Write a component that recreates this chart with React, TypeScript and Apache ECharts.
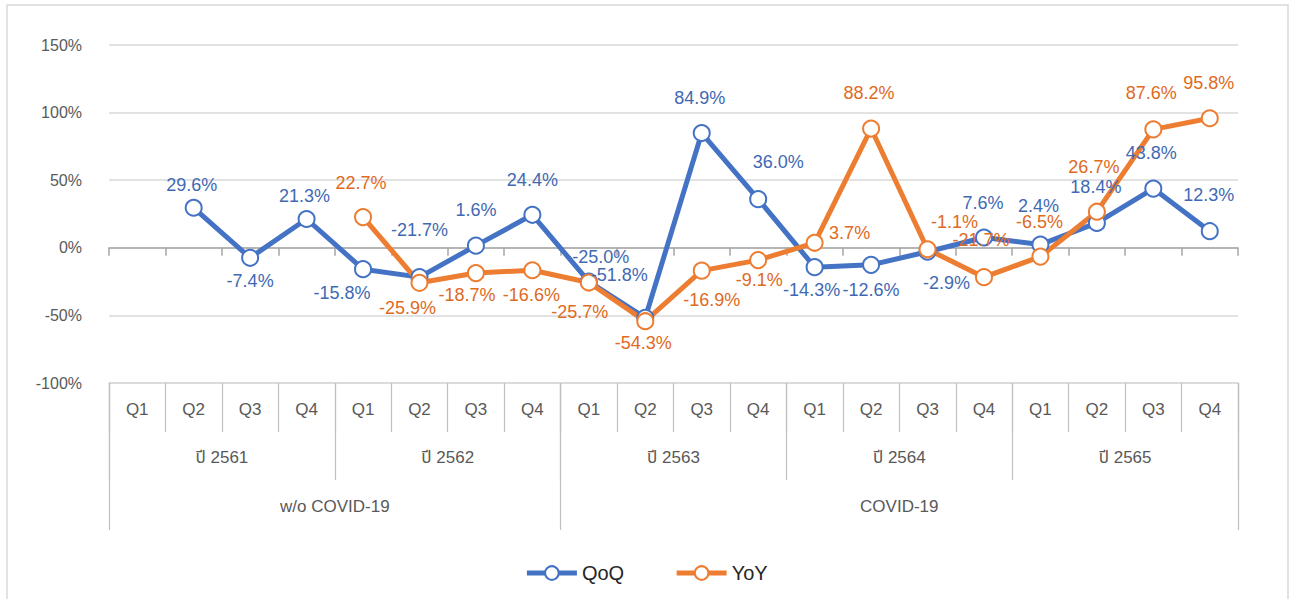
import React, { useEffect, useRef } from "react";
import * as echarts from "echarts";

const QUARTERS = ["Q1", "Q2", "Q3", "Q4", "Q1", "Q2", "Q3", "Q4", "Q1", "Q2", "Q3", "Q4", "Q1", "Q2", "Q3", "Q4", "Q1", "Q2", "Q3", "Q4"];
const YEARS = ["ปี 2561", "ปี 2562", "ปี 2563", "ปี 2564", "ปี 2565"];
const PERIODS = ["w/o COVID-19", "COVID-19"];
// period boundaries in quarter units
const PERIOD_BOUNDS = [0, 8, 20];
const PERIOD_CENTERS = [4, 14];

const QOQ: (number | null)[] = [null, 29.6, -7.4, 21.3, -15.8, -21.7, 1.6, 24.4, -25.0, -51.8, 84.9, 36.0, -14.3, -12.6, -2.9, 7.6, 2.4, 18.4, 43.8, 12.3];
const YOY: (number | null)[] = [null, null, null, null, 22.7, -25.9, -18.7, -16.6, -25.7, -54.3, -16.9, -9.1, 3.7, 88.2, -1.1, -21.7, -6.5, 26.7, 87.6, 95.8];

const Y_TICKS = { min: -100, max: 150, interval: 50 };

// label offsets (layout only) relative to each point
const QOQ_LABEL_OFFSET: number[][] = [
  [0, 0], [-2, -23], [0, 23], [-2, -23], [-21, 24], [0, -47], [0, -36], [0, -35], [12, -25], [-26, -43],
  [-2, -35], [20, -37], [-3, 23], [0, 25], [19, 31], [-1, -35], [-2, -39], [-1, -36], [-2, -36], [-1, -36],
];
const YOY_LABEL_OFFSET: number[][] = [
  [0, 0], [0, 0], [0, 0], [0, 0], [-2, -34], [-12, 25], [-9, 22], [-1, 25], [-9, 29], [-2, 22],
  [10, 29], [1, 20], [35, -10], [-2, -36], [27, -27], [-3, -37], [-1, -35], [-3, -45], [-2, -36], [-1, -35],
];

const BLUE = "#4472C4";
const ORANGE = "#ED7D31";
const BLUE_TEXT = "#4169B3";
const ORANGE_TEXT = "#E06A22";
const FONT = "'Liberation Sans', Arial, 'Noto Sans Thai', Tahoma, 'Noto Sans', sans-serif";

function buildData(vals: (number | null)[], offsets: number[][]) {
  return vals.map((v, i) =>
    v == null ? null : { value: v, label: { offset: offsets[i] } }
  );
}

export default function App() {
  const ref = useRef<HTMLDivElement>(null);
  useEffect(() => {
    if (!ref.current) return;
    const chart = echarts.init(ref.current, undefined, { renderer: "svg" });
    const makeSeries = (name: string, vals: (number | null)[], offs: number[][], color: string, textColor: string) => ({
      name,
      type: "line",
      xAxisIndex: 0,
      yAxisIndex: 0,
      data: buildData(vals, offs),
      connectNulls: false,
      symbol: "emptyCircle",
      symbolSize: 16,
      lineStyle: { color, width: 5 },
      itemStyle: { color, borderColor: color, borderWidth: 4 },
      label: {
        show: true,
        position: "inside",
        fontSize: 18,
        fontFamily: FONT,
        color: textColor,
        formatter: (p: any) => `${Number(p.value).toFixed(1)}%`,
      },
      emphasis: { disabled: true },
    });
    chart.setOption({
      animation: false,
      textStyle: { fontFamily: FONT },
      graphic: [
        {
          type: "rect",
          shape: { x: 7, y: 5, width: 1281, height: 620 },
          style: { fill: "none", stroke: "#d9d9d9", lineWidth: 1.5 },
          silent: true,
          z: -1,
        },
      ],
      grid: { left: 109, right: 54, top: 45, bottom: 216 },
      legend: {
        data: ["QoQ", "YoY"],
        left: "center",
        top: 558,
        itemWidth: 50,
        itemHeight: 17,
        itemGap: 50,
        lineStyle: { width: 5 },
        itemStyle: { borderWidth: 4 },
        textStyle: { fontSize: 20, color: "#262626", fontFamily: FONT },
      },
      yAxis: {
        type: "value",
        min: Y_TICKS.min,
        max: Y_TICKS.max,
        interval: Y_TICKS.interval,
        axisLine: { show: false },
        axisTick: { show: false },
        axisLabel: { formatter: "{value}%", fontSize: 16, color: "#595959", margin: 27, fontFamily: FONT },
        splitLine: { lineStyle: { color: "#d9d9d9", width: 1.5 } },
      },
      xAxis: [
        {
          type: "category",
          data: QUARTERS,
          position: "bottom",
          boundaryGap: true,
          axisLine: { onZero: true, lineStyle: { color: "#a6a6a6", width: 1.5 } },
          axisTick: { show: true, interval: 0, length: 8, lineStyle: { color: "#a6a6a6", width: 1.5 } },
          axisLabel: { show: false },
          splitLine: { show: false },
        },
        {
          type: "category",
          data: QUARTERS,
          position: "bottom",
          boundaryGap: true,
          axisLine: { show: true, onZero: false, lineStyle: { color: "#d9d9d9", width: 1.5 } },
          axisTick: { show: true, interval: 0, length: 49, lineStyle: { color: "#bfbfbf", width: 1.2 } },
          axisLabel: { interval: 0, fontSize: 17, color: "#595959", margin: 18, fontFamily: FONT },
          splitLine: { show: false },
        },
        {
          type: "category",
          data: YEARS,
          position: "bottom",
          boundaryGap: true,
          axisLine: { show: false, onZero: false },
          axisTick: { show: true, interval: 0, length: 97, lineStyle: { color: "#bfbfbf", width: 1.2 } },
          axisLabel: { interval: 0, fontSize: 17, color: "#595959", margin: 66, fontFamily: FONT },
          splitLine: { show: false },
        },
        {
          type: "value",
          min: 0,
          max: 20,
          position: "bottom",
          axisLine: { show: false, onZero: false },
          axisTick: { show: true, customValues: PERIOD_BOUNDS, length: 147, lineStyle: { color: "#bfbfbf", width: 1.2 } },
          axisLabel: {
            customValues: PERIOD_CENTERS,
            formatter: (v: number) => PERIODS[PERIOD_CENTERS.indexOf(v)] ?? "",
            fontSize: 17,
            color: "#595959",
            margin: 115,
            fontFamily: FONT,
          },
          splitLine: { show: false },
        },
      ],
      series: [
        makeSeries("QoQ", QOQ, QOQ_LABEL_OFFSET, BLUE, BLUE_TEXT),
        makeSeries("YoY", YOY, YOY_LABEL_OFFSET, ORANGE, ORANGE_TEXT),
      ],
    });
    return () => chart.dispose();
  }, []);
  return (
    <div
      ref={ref}
      style={{ position: "fixed", left: 0, top: 0, width: 1292, height: 599, background: "#fff" }}
    />
  );
}
